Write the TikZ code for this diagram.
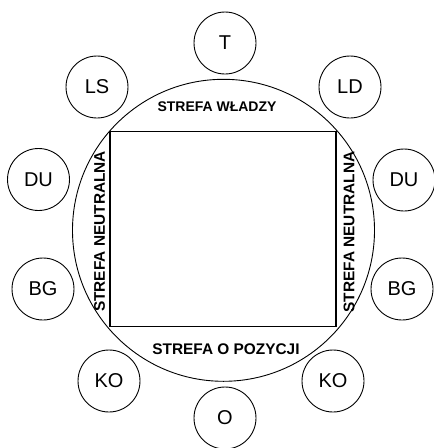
\documentclass[tikz,border=0pt]{standalone}
\usepackage{fontspec}
\setmainfont{Liberation Sans}
\begin{document}
\begin{tikzpicture}[x=1pt,y=-1pt,
  seat/.style={draw, circle, minimum size=62pt, inner sep=0pt, line width=0.9pt, font=\fontsize{20}{22}\selectfont},
  zonelabel/.style={inner sep=0pt, font=\bfseries\fontsize{14}{16}\selectfont},
  line width=0.9pt]
\fill[white] (0,0) rectangle (434,448);
\useasboundingbox (0,0) rectangle (434,448);
% zones
\node[draw, circle, minimum size=302pt, inner sep=0pt] (zone) at (223.5,230.3) {};
\node[draw, minimum width=226pt, minimum height=195.5pt, inner sep=0pt, line width=1.1pt] (table) at (223,228.8) {};
\node[zonelabel] (wladzy) at (217,107) {STREFA WŁADZY};
\node[zonelabel, font=\bfseries\fontsize{15.4}{17}\selectfont] (pozycji) at (226,349) {STREFA O POZYCJI};
\node[zonelabel, rotate=90, font=\bfseries\fontsize{15.4}{17}\selectfont] (neutrL) at (99.5,231.5) {STREFA NEUTRALNA};
\node[zonelabel, rotate=90, font=\bfseries\fontsize{15.4}{17}\selectfont] (neutrR) at (349,232) {STREFA NEUTRALNA};
% seats
\node[seat] (T) at (225,43) {T};
\node[seat] (LS) at (97,87) {LS};
\node[seat] (LD) at (350,87) {LD};
\node[seat] (DUL) at (38.5,179.5) {DU};
\node[seat] (DUR) at (404,180) {DU};
\node[seat] (BGL) at (43,289) {BG};
\node[seat] (BGR) at (402,289) {BG};
\node[seat] (KOL) at (109,381) {KO};
\node[seat] (KOR) at (333,381) {KO};
\node[seat] (O) at (225,418) {O};
\end{tikzpicture}
\end{document}
